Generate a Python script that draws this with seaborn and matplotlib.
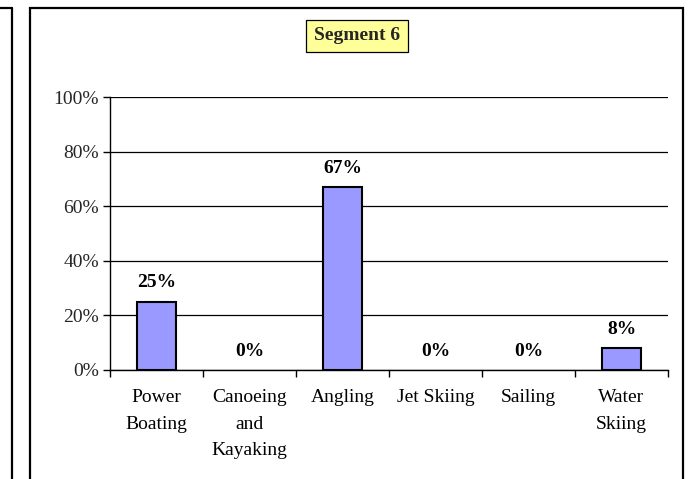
import matplotlib
matplotlib.use("Agg")
import matplotlib.pyplot as plt
import seaborn as sns
import pandas as pd
from matplotlib.lines import Line2D
from matplotlib.patches import Rectangle

categories = ["Power\nBoating", "Canoeing\nand\nKayaking", "Angling", "Jet Skiing", "Sailing", "Water\nSkiing"]
values = [0.25, 0.0, 0.67, 0.0, 0.0, 0.08]
value_labels = ["25%", "0%", "67%", "0%", "0%", "8%"]
y_ticks = [0, 0.2, 0.4, 0.6, 0.8, 1.0]
y_tick_labels = ["0%", "20%", "40%", "60%", "80%", "100%"]
title = "Segment 6"

sns.set_theme(style="white")
plt.rcParams['font.family'] = ['Liberation Serif', 'DejaVu Serif']

W, H = 690, 479
fig = plt.figure(figsize=(W / 100, H / 100), dpi=100)
ax = fig.add_axes([110 / W, 1 - 370 / H, (668 - 110) / W, (370 - 97) / H])

df = pd.DataFrame({"cat": categories, "val": values})
sns.barplot(data=df, x="cat", y="val", color="#9999FF", saturation=1, width=0.42,
            edgecolor="black", linewidth=1.5, ax=ax, zorder=3)
for p in ax.patches:
    if p.get_height() == 0:
        p.set_linewidth(0)

ax.set_ylim(0, 1)
ax.set_xlim(-0.5, len(categories) - 0.5)
ax.set_yticks(y_ticks)
ax.set_yticklabels(y_tick_labels, fontsize=14)
ax.set_xticks(range(len(categories)))
ax.set_xticklabels(categories, fontsize=14, linespacing=1.72, va="top")
ax.set_xticks([i - 0.5 for i in range(len(categories) + 1)], minor=True)
ax.tick_params(axis="x", which="major", length=0, pad=14, colors="black")
ax.tick_params(axis="x", which="minor", length=5, width=1, color="black", direction="out", bottom=True)
ax.tick_params(axis="y", which="major", length=5, width=1, color="black", direction="out", left=True, pad=3)
ax.set_xlabel("")
ax.set_ylabel("")
ax.yaxis.grid(True, color="black", linewidth=0.9, zorder=0)
ax.set_axisbelow(True)
for s in ["top", "right"]:
    ax.spines[s].set_visible(False)
for s in ["left", "bottom"]:
    ax.spines[s].set_color("black")
    ax.spines[s].set_linewidth(1)

for i, (v, lab) in enumerate(zip(values, value_labels)):
    ax.annotate(lab, (i, v), xytext=(0, 7.5), textcoords="offset points",
                ha="center", va="bottom", fontsize=14, fontweight="bold", color="black")

# frames
fig.patches.append(Rectangle((30 / W, -0.05), (683 - 30) / W, (1 - 8 / H) + 0.05,
                             transform=fig.transFigure, fill=False, edgecolor="black", linewidth=1.6))
fig.lines.append(Line2D([12 / W, 12 / W], [-0.05, 1 - 8 / H], transform=fig.transFigure, color="black", linewidth=1.6))
fig.lines.append(Line2D([-0.01, 12 / W], [1 - 8 / H, 1 - 8 / H], transform=fig.transFigure, color="black", linewidth=1.6))

fig.text(357 / W, 1 - 36 / H, title, ha="center", va="center", fontsize=14, fontweight="bold",
         bbox=dict(boxstyle="square,pad=0.4", facecolor="#FFFF99", edgecolor="black", linewidth=0.9))

fig.savefig("out.png", dpi=100)
